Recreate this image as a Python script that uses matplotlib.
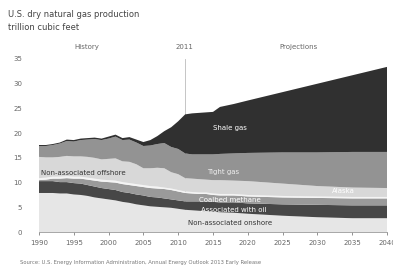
import matplotlib
matplotlib.use("Agg")
import matplotlib.pyplot as plt

# ---- data (trillion cubic feet) ----
years = list(range(1990, 2012)) + [2012, 2013, 2014, 2015, 2016, 2018, 2020, 2025, 2030, 2035, 2040]

onshore = [7.9, 7.9, 7.9, 7.8, 7.8, 7.6, 7.5, 7.3, 7.0, 6.8, 6.6, 6.4, 6.1, 5.9, 5.6, 5.4, 5.2, 5.1, 5.0, 4.9, 4.7, 4.5,
           4.4, 4.3, 4.2, 4.1, 4.0, 3.9, 3.7, 3.3, 3.0, 2.8, 2.8]
associated = [2.4, 2.4, 2.4, 2.3, 2.3, 2.3, 2.3, 2.2, 2.2, 2.1, 2.1, 2.1, 2.0, 2.0, 2.0, 2.0, 1.9, 1.9, 1.8, 1.7, 1.7, 1.7,
              1.8, 1.9, 2.0, 2.0, 2.0, 2.1, 2.1, 2.3, 2.5, 2.6, 2.6]
coalbed = [0.2, 0.3, 0.5, 0.7, 0.8, 0.9, 1.0, 1.1, 1.2, 1.3, 1.4, 1.5, 1.6, 1.6, 1.7, 1.7, 1.8, 1.8, 1.9, 1.9, 1.8, 1.7,
           1.6, 1.5, 1.5, 1.4, 1.4, 1.4, 1.4, 1.4, 1.4, 1.4, 1.4]
alaska = [0.4, 0.4, 0.4, 0.4, 0.4, 0.4, 0.4, 0.4, 0.4, 0.4, 0.4, 0.4, 0.4, 0.4, 0.4, 0.4, 0.4, 0.4, 0.3, 0.3, 0.3, 0.3,
          0.3, 0.3, 0.3, 0.3, 0.3, 0.3, 0.3, 0.3, 0.3, 0.3, 0.3]
offshore = [4.3, 4.1, 3.9, 4.0, 4.1, 4.1, 4.1, 4.2, 4.2, 4.1, 4.3, 4.5, 4.2, 4.3, 4.0, 3.4, 3.6, 3.8, 3.9, 3.3, 3.2, 2.7,
            2.7, 2.7, 2.6, 2.7, 2.8, 2.7, 2.8, 2.5, 2.1, 1.9, 1.8]
tight = [2.2, 2.3, 2.5, 2.7, 3.0, 3.0, 3.3, 3.5, 3.8, 3.9, 4.1, 4.4, 4.3, 4.5, 4.4, 4.5, 4.6, 4.8, 5.1, 5.1, 5.1, 5.0,
         4.9, 5.0, 5.1, 5.2, 5.3, 5.5, 5.7, 6.3, 6.8, 7.2, 7.3]
shale = [0.2, 0.2, 0.2, 0.2, 0.3, 0.3, 0.3, 0.3, 0.3, 0.3, 0.4, 0.4, 0.4, 0.5, 0.6, 0.8, 1.1, 1.6, 2.4, 4.0, 5.6, 7.9,
         8.3, 8.4, 8.5, 8.6, 9.5, 10.0, 10.6, 12.2, 13.9, 15.5, 17.2]

colors = ["#e6e6e6", "#474747", "#9a9a9a", "#f4f4f4", "#d8d8d8", "#939393", "#303030"]
xticks = list(range(1990, 2041, 5))
yticks = list(range(0, 36, 5))

fig = plt.figure(figsize=(3.93, 2.73), dpi=100)
ax = fig.add_axes([0.099, 0.150, 0.886, 0.634])

ax.stackplot(years, onshore, associated, coalbed, alaska, offshore, tight, shale,
             colors=colors, linewidth=0)
ax.axvline(2011, color="#bbbbbb", lw=0.6, zorder=0)

ax.set_xlim(1990, 2040)
ax.set_ylim(0, 35)
ax.set_xticks(xticks)
ax.set_yticks(yticks)
ax.tick_params(axis="both", labelsize=5, colors="#666666", length=2, width=0.5)
ax.tick_params(axis="y", length=0, pad=12)
for s in ["top", "right", "left"]:
    ax.spines[s].set_visible(False)
ax.spines["bottom"].set_color("#999999")
ax.spines["bottom"].set_linewidth(0.6)

# band labels
ax.text(2017.4, 21.0, "Shale gas", color="white", fontsize=5, ha="center", va="center")
ax.text(2016.4, 12.1, "Tight gas", color="#eeeeee", fontsize=5, ha="center", va="center")
ax.text(2033.7, 8.4, "Alaska", color="white", fontsize=5, ha="center", va="center")
ax.text(1990.3, 11.9, "Non-associated offshore", color="#333333", fontsize=5, ha="left", va="center")
ax.text(2017.4, 6.5, "Coalbed methane", color="white", fontsize=5, ha="center", va="center")
ax.text(2018.0, 4.4, "Associated with oil", color="white", fontsize=5, ha="center", va="center")
ax.text(2017.4, 1.8, "Non-associated onshore", color="#333333", fontsize=5, ha="center", va="center")

# header / period labels
fig.text(0.02, 0.948, "U.S. dry natural gas production", fontsize=6, color="#444444", va="center")
fig.text(0.02, 0.900, "trillion cubic feet", fontsize=6, color="#444444", va="center")
fig.text(0.22, 0.828, "History", fontsize=5, color="#666666", ha="center", va="center")
fig.text(0.47, 0.828, "2011", fontsize=5, color="#666666", ha="center", va="center")
fig.text(0.76, 0.828, "Projections", fontsize=5, color="#666666", ha="center", va="center")
fig.text(0.05, 0.04, "Source: U.S. Energy Information Administration, Annual Energy Outlook 2013 Early Release",
         fontsize=3.8, color="#777777", va="center")

fig.savefig("out.png", dpi=100)
